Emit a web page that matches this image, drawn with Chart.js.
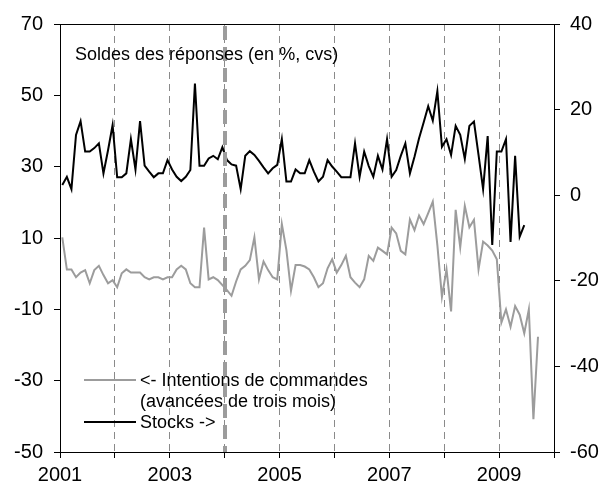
<!DOCTYPE html>
<html>
<head>
<meta charset="utf-8">
<script src="https://cdn.jsdelivr.net/npm/chart.js@4.4.1/dist/chart.umd.min.js"></script>
<style>
  html, body { margin: 0; padding: 0; background: #fff; }
  #wrap { width: 604px; height: 490px; }
</style>
</head>
<body>
<div id="wrap"><canvas id="chart" width="604" height="490"></canvas></div>
<script>
// monthly series, first month = January 2001
const startYear = 2001;

// left axis, shifted three months ahead
const intentions = [
  10.2, 1.2, 1.2, -1.0, 0.3, 1.0, -2.7, 1.0, 2.2, -0.4,
  -2.7, -1.8, -3.8, 0.1, 1.2, 0.3, 0.3, 0.3, -1.0, -1.6,
  -1.0, -1.0, -1.6, -1.0, -1.0, 1.2, 2.2, 1.2, -2.7, -3.8,
  -3.8, 12.9, -1.6, -1.0, -1.8, -3.2, -4.6, -6.2, -2.2, 1.2,
  2.2, 3.8, 10.2, -1.6, 3.4, 1.0, -1.0, -1.6, 13.9, 6.6,
  -4.8, 2.4, 2.4, 2.0, 1.2, -1.0, -3.8, -2.7, 1.5, 4.0,
  0.3, 2.4, 5.0, -1.0, -2.5, -3.8, -1.6, 5.0, 3.6, 7.3,
  6.4, 5.4, 12.9, 11.3, 6.4, 5.4, 15.2, 12.2, 16.3, 13.9,
  17.0, 20.2, 8.0, -6.5, 1.2, -10.6, 17.9, 7.4, 19.0, 13.0,
  15.1, 1.2, 9.0, 7.9, 6.5, 4.0, -13.7, -10.0, -14.9, -9.1,
  -11.5, -16.7, -10.0, -40.8, -17.7
];

// right axis
const stocks = [
  2.4, 4.3, 1.4, 14.1, 17.3, 10.2, 10.2, 11.0, 12.1, 5.1,
  10.5, 16.4, 4.2, 4.2, 5.1, 13.1, 6.0, 17.3, 6.9, 5.5,
  4.2, 5.1, 5.1, 8.2, 6.0, 4.3, 3.3, 4.3, 5.9, 26.1,
  6.9, 6.9, 8.6, 9.2, 8.4, 11.2, 8.2, 7.2, 6.9, 1.4,
  9.2, 10.3, 9.4, 8.0, 6.5, 5.1, 6.3, 7.1, 13.1, 3.2,
  3.2, 6.0, 5.1, 5.1, 8.2, 5.5, 3.2, 4.3, 8.2, 6.7,
  5.5, 4.2, 4.2, 4.2, 12.1, 4.3, 10.2, 6.8, 4.3, 9.2,
  6.0, 13.1, 4.3, 5.9, 9.2, 12.1, 5.1, 9.0, 13.3, 17.0,
  20.8, 17.4, 24.3, 11.3, 13.1, 9.4, 16.2, 14.1, 8.5, 16.2,
  17.2, 9.4, 1.4, 13.8, -11.6, 10.2, 10.2, 13.1, -10.9, 9.2,
  -9.7, -7.0
];

const leftTicks = [-50, -30, -10, 10, 30, 50, 70];
const rightTicks = [-60, -40, -20, 0, 20, 40];
const yearLabels = [2001, 2003, 2005, 2007, 2009];
const breakYear = 2004;
const titleText = 'Soldes des réponses (en %, cvs)';
const legendLines = ['<- Intentions de commandes', '(avancées de trois mois)', 'Stocks ->'];

const FONT = '"Liberation Sans", Arial, sans-serif';
const GREY = '#9c9c9c';

const toPoints = values => values.map((v, i) => ({ x: startYear + (i + 0.5) / 12, y: v }));

// frame top, 2004 break marker, title and legend
const decorations = {
  id: 'decorations',
  afterDatasetsDraw(chart) {
    const { ctx, chartArea: { left, top, right, bottom }, scales: { x } } = chart;
    ctx.save();

    ctx.strokeStyle = '#000';
    ctx.lineWidth = 1;
    ctx.beginPath();
    ctx.moveTo(left, top + 0.5);
    ctx.lineTo(right, top + 0.5);
    ctx.stroke();

    const bx = Math.round(x.getPixelForValue(breakYear));
    ctx.strokeStyle = GREY;
    ctx.lineWidth = 4;
    ctx.setLineDash([14, 7]);
    ctx.beginPath();
    ctx.moveTo(bx, top + 2);
    ctx.lineTo(bx, bottom);
    ctx.stroke();
    ctx.setLineDash([]);

    ctx.font = '18px ' + FONT;
    ctx.fillStyle = '#000';
    ctx.textBaseline = 'alphabetic';
    ctx.fillText(titleText, left + 15, top + 36);

    ctx.lineWidth = 2;
    ctx.strokeStyle = GREY;
    ctx.beginPath();
    ctx.moveTo(left + 24, bottom - 72);
    ctx.lineTo(left + 76, bottom - 72);
    ctx.stroke();
    ctx.strokeStyle = '#000';
    ctx.beginPath();
    ctx.moveTo(left + 24, bottom - 30);
    ctx.lineTo(left + 76, bottom - 30);
    ctx.stroke();

    ctx.fillText(legendLines[0], left + 80, bottom - 66);
    ctx.fillText(legendLines[1], left + 80, bottom - 45);
    ctx.fillText(legendLines[2], left + 80, bottom - 24);

    ctx.restore();
  }
};

const ctx = document.getElementById('chart').getContext('2d');

new Chart(ctx, {
  type: 'line',
  data: {
    datasets: [
      {
        label: 'Stocks',
        data: toPoints(stocks),
        yAxisID: 'y1',
        borderColor: '#000',
        borderWidth: 2,
        pointRadius: 0,
        tension: 0,
        order: 1
      },
      {
        label: 'Intentions de commandes',
        data: toPoints(intentions),
        yAxisID: 'y',
        borderColor: GREY,
        borderWidth: 2,
        pointRadius: 0,
        tension: 0,
        order: 2
      }
    ]
  },
  options: {
    responsive: false,
    animation: false,
    devicePixelRatio: 1,
    layout: { padding: { top: 24, left: 0, right: 0, bottom: 0 } },
    plugins: {
      legend: { display: false },
      tooltip: { enabled: false }
    },
    scales: {
      x: {
        type: 'linear',
        min: 2001,
        max: 2010,
        ticks: {
          stepSize: 1,
          autoSkip: false,
          maxRotation: 0,
          padding: 5,
          color: '#000',
          font: { family: FONT, size: 20 },
          callback: v => yearLabels.includes(v) ? String(v) : ''
        },
        grid: {
          color: c => (c.tick && c.tick.value > 2001 && c.tick.value < 2010) ? '#8a8a8a' : 'rgba(0,0,0,0)',
          lineWidth: 1,
          tickColor: '#000',
          tickLength: 6,
          tickBorderDash: []
        },
        border: { color: '#000', width: 1, dash: [7, 5] },
        afterFit: s => { s.height = 38; }
      },
      y: {
        position: 'left',
        min: -50,
        max: 70,
        afterBuildTicks: s => { s.ticks = leftTicks.map(v => ({ value: v })); },
        ticks: { padding: 11, color: '#000', font: { family: FONT, size: 20 } },
        grid: { drawOnChartArea: false, tickLength: 6, tickColor: '#000' },
        border: { color: '#000', width: 1 },
        afterFit: s => { s.width = 60; }
      },
      y1: {
        position: 'right',
        min: -60,
        max: 40,
        afterBuildTicks: s => { s.ticks = rightTicks.map(v => ({ value: v })); },
        ticks: { padding: 10, color: '#000', font: { family: FONT, size: 20 } },
        grid: { drawOnChartArea: false, tickLength: 6, tickColor: '#000' },
        border: { color: '#000', width: 1 },
        afterFit: s => { s.width = 50; }
      }
    }
  },
  plugins: [decorations]
});
</script>
</body>
</html>
